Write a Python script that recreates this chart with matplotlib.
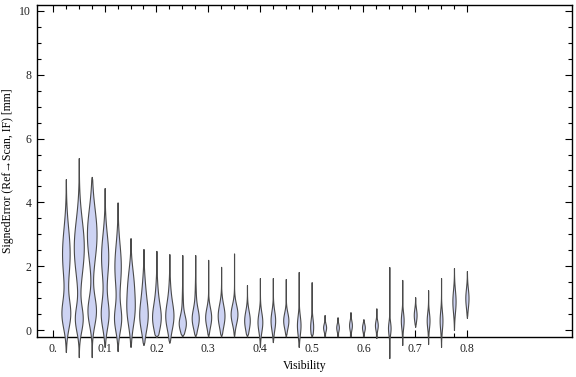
import numpy as np
import matplotlib

matplotlib.use("Agg")
import matplotlib.pyplot as plt

# violin positions along the visibility axis
visibility = [0.025, 0.05, 0.075, 0.1, 0.125, 0.15, 0.175, 0.2, 0.225, 0.25,
              0.275, 0.3, 0.325, 0.35, 0.375, 0.4, 0.425, 0.45, 0.475, 0.5,
              0.525, 0.55, 0.575, 0.6, 0.625, 0.65, 0.675, 0.7, 0.725, 0.75,
              0.775, 0.8]

# range of each distribution [mm]
err_min = [-0.69, -0.85, -0.85, -0.53, -0.66, -0.53, -0.47, -0.22, -0.40, -0.20,
           -0.20, -0.20, -0.20, -0.20, -0.20, -0.53, -0.38, -0.20, -0.53, -0.20,
           -0.20, -0.20, -0.20, -0.20, -0.25, -0.88, -0.47, 0.10, -0.44, -0.53,
           0.00, 0.38]
err_max = [4.73, 5.39, 4.80, 4.45, 4.00, 2.88, 2.54, 2.48, 2.38, 2.35,
           2.35, 2.20, 1.98, 2.40, 1.41, 1.63, 1.63, 1.60, 1.82, 1.50,
           0.47, 0.40, 0.56, 0.34, 0.68, 1.97, 1.57, 1.03, 1.25, 1.63,
           1.94, 1.85]

# density modes of each violin: (centre [mm], spread [mm], half width in px)
modes = [
    [(0.50, 0.45, 4.2), (2.40, 0.80, 3.8)],
    [(0.35, 0.40, 3.8), (2.60, 0.85, 5.0)],
    [(0.60, 0.45, 4.2), (3.00, 0.80, 4.8)],
    [(0.50, 0.45, 3.8), (2.30, 0.70, 3.6)],
    [(0.35, 0.40, 3.4), (2.00, 0.70, 3.2)],
    [(0.60, 0.50, 3.6), (1.50, 0.50, 2.5)],
    [(0.40, 0.45, 3.8), (1.20, 0.50, 1.5)],
    [(0.35, 0.40, 3.8), (1.00, 0.50, 1.2)],
    [(0.40, 0.40, 3.6), (1.00, 0.50, 1.0)],
    [(0.20, 0.25, 3.2), (0.70, 0.50, 0.6)],
    [(0.35, 0.30, 3.2), (0.90, 0.50, 0.6)],
    [(0.40, 0.30, 3.0)],
    [(0.45, 0.35, 3.4)],
    [(0.50, 0.30, 3.4)],
    [(0.30, 0.30, 2.8)],
    [(0.25, 0.30, 2.4)],
    [(0.30, 0.30, 2.3)],
    [(0.30, 0.25, 2.6)],
    [(0.15, 0.30, 1.8)],
    [(0.10, 0.25, 1.5)],
    [(0.08, 0.12, 1.5)],
    [(0.08, 0.12, 1.3)],
    [(0.15, 0.15, 1.4)],
    [(0.08, 0.12, 1.4)],
    [(0.15, 0.15, 1.4)],
    [(0.06, 0.20, 1.3)],
    [(0.30, 0.25, 1.4)],
    [(0.47, 0.20, 1.4)],
    [(0.30, 0.25, 1.4)],
    [(0.30, 0.30, 1.4)],
    [(0.90, 0.35, 1.6)],
    [(1.00, 0.30, 1.6)],
]

x_major = [0.0, 0.1, 0.2, 0.3, 0.4, 0.5, 0.6, 0.7, 0.8]
x_labels = ["0.", "0.1", "0.2", "0.3", "0.4", "0.5", "0.6", "0.7", "0.8"]
y_major = [0, 2, 4, 6, 8, 10]

FILL = "#cdd3f3"
EDGE = "#4a4a4a"
PX = 0.1 / 51.75  # data units per pixel along x

plt.rcParams["font.family"] = ["Liberation Serif", "DejaVu Serif"]
plt.rcParams["font.size"] = 8.5

fig = plt.figure(figsize=(5.76, 3.77), dpi=100)
ax = fig.add_axes([0.064, 0.106, 0.929, 0.881])

for pos, lo, hi, mm in zip(visibility, err_min, err_max, modes):
    y = np.linspace(lo, hi, 300)
    w = np.zeros_like(y)
    for c, s, hw in mm:
        w += hw * np.exp(-0.5 * ((y - c) / s) ** 2)
    taper = np.clip(np.minimum(y - lo, hi - y) / 0.08, 0, 1)
    w = w * taper * PX
    ax.fill_betweenx(y, pos - w, pos + w, facecolor=FILL, edgecolor=EDGE,
                     linewidth=0.8, clip_on=False, zorder=3)

ax.set_xlim(-0.031, 1.003)
ax.set_ylim(-0.22, 10.19)

ax.set_xticks(x_major)
ax.set_xticklabels(x_labels)
ax.set_xticks(visibility, minor=True)
ax.set_yticks(y_major)
ax.set_yticks(np.arange(0, 10.01, 0.5), minor=True)

ax.tick_params(which="both", direction="in", top=True, right=True,
               colors="black", labelcolor="#222222", labelsize=8.5, width=0.8)
ax.tick_params(which="major", length=5, pad=4)
ax.tick_params(which="minor", length=3)
for side in ax.spines.values():
    side.set_linewidth(1.0)
    side.set_color("black")

ax.set_xlabel("Visibility", fontsize=8.5, labelpad=4)
ax.set_ylabel("SignedError (Ref\u2192Scan, IF) [mm]", fontsize=8.5, labelpad=4)

fig.savefig("out.png", dpi=100)
